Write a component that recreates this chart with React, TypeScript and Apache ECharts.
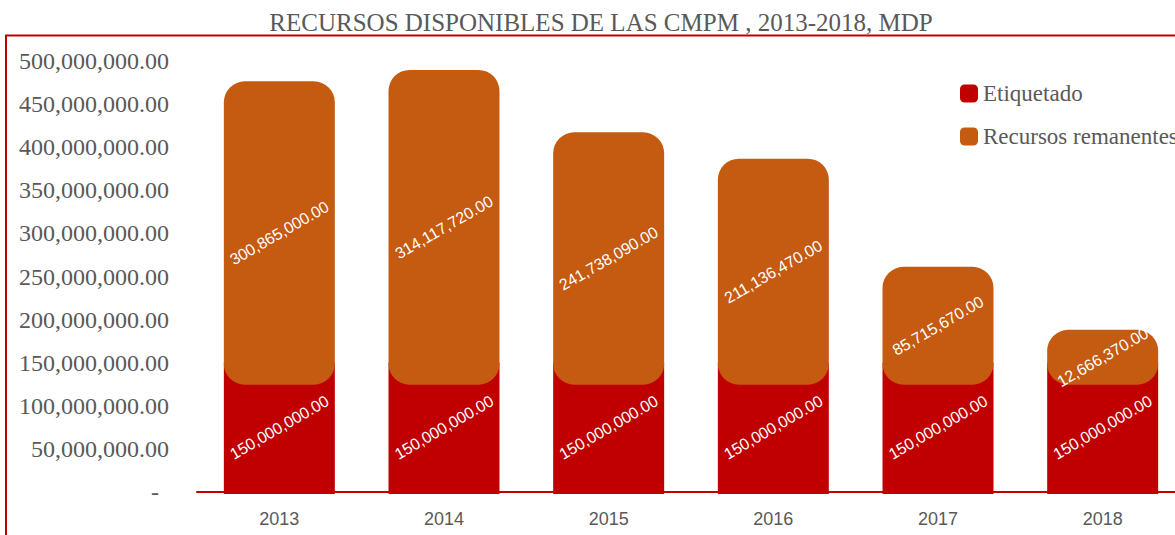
import React, { useEffect, useRef } from "react";
import * as echarts from "echarts";

const categories = ["2013", "2014", "2015", "2016", "2017", "2018"];
const etiquetado = [150000000, 150000000, 150000000, 150000000, 150000000, 150000000];
const remanentes = [300865000, 314117720, 241738090, 211136470, 85715670, 12666370];
const yTicks = { min: 0, max: 500000000, interval: 50000000 };

const RED = "#C00000";
const ORANGE = "#C55A11";
const GRAY = "#595959";

const fmt = (v: number) =>
  v.toLocaleString("en-US", { minimumFractionDigits: 2, maximumFractionDigits: 2 });

function makeRender(bases: number[], values: number[], color: string, extTop: number, extBottom: number, radius: number) {
  return (params: any, api: any) => {
    const i = params.dataIndex;
    const base = bases[i];
    const val = values[i];
    const p0 = api.coord([i, base]);
    const p1 = api.coord([i, base + val]);
    const pm = api.coord([i, base + val / 2]);
    const bw = api.size([1, 0])[0] * 0.674;
    const top = p1[1] - extTop;
    const bottom = p0[1] + extBottom;
    return {
      type: "group",
      children: [
        {
          type: "rect",
          shape: { x: p0[0] - bw / 2, y: top, width: bw, height: bottom - top, r: radius },
          style: { fill: color },
        },
        {
          type: "text",
          x: pm[0],
          y: pm[1],
          rotation: Math.PI / 6,
          style: {
            text: fmt(val),
            fill: "#ffffff",
            fontSize: 16,
            fontFamily: "Liberation Sans",
            align: "center",
            verticalAlign: "middle",
          },
        },
      ],
    };
  };
}

export default function App() {
  const ref = useRef<HTMLDivElement>(null);
  useEffect(() => {
    if (!ref.current) return;
    const chart = echarts.init(ref.current, undefined, { renderer: "svg" });
    const zeros = categories.map(() => 0);
    chart.setOption({
      animation: false,
      backgroundColor: "#ffffff",
      title: {
        text: "RECURSOS DISPONIBLES DE LAS CMPM , 2013-2018, MDP",
        left: 596,
        textAlign: "center",
        top: 5,
        textStyle: { fontFamily: "Liberation Serif", fontSize: 25, fontWeight: "normal", color: GRAY },
      },
      graphic: [
        {
          type: "rect",
          shape: { x: 6, y: 35.5, width: 1400, height: 700 },
          style: { fill: "none", stroke: RED, lineWidth: 2 },
          silent: true,
        },
      ],
      legend: {
        orient: "vertical",
        left: 955,
        top: 77,
        icon: "roundRect",
        itemWidth: 18,
        itemHeight: 18,
        itemGap: 20,
        textStyle: { fontFamily: "Liberation Serif", fontSize: 23, color: GRAY },
        data: ["Etiquetado", "Recursos remanentes"],
      },
      grid: { left: 197, top: 61, width: 988, bottom: 43, containLabel: false },
      xAxis: {
        type: "category",
        data: categories,
        axisLine: { show: true, lineStyle: { color: RED, width: 2 } },
        axisTick: { show: false },
        axisLabel: { fontFamily: "Liberation Sans", fontSize: 18, color: GRAY, margin: 18 },
      },
      yAxis: {
        type: "value",
        min: yTicks.min,
        max: yTicks.max,
        interval: yTicks.interval,
        axisLine: { show: false },
        axisTick: { show: false },
        splitLine: { show: false },
        axisLabel: {
          margin: 28,
          fontFamily: "Liberation Serif",
          fontSize: 24,
          color: GRAY,
          formatter: (v: number) => (v === 0 ? "{d|-}" : fmt(v)),
          rich: { d: { fontFamily: "Liberation Serif", fontSize: 24, color: GRAY, padding: [0, 10, 0, 0] } },
        },
      },
      series: [
        {
          name: "Etiquetado",
          type: "custom",
          itemStyle: { color: RED },
          encode: { x: 0, y: 1 },
          data: categories.map((_, i) => [i, etiquetado[i]]),
          renderItem: makeRender(zeros, etiquetado, RED, 0, 2, 0),
          z: 2,
        },
        {
          name: "Recursos remanentes",
          type: "custom",
          itemStyle: { color: ORANGE },
          encode: { x: 0, y: 1 },
          data: categories.map((_, i) => [i, etiquetado[i] + remanentes[i]]),
          renderItem: makeRender(etiquetado, remanentes, ORANGE, 22, 22, 21),
          z: 3,
        },
      ],
    });
    return () => chart.dispose();
  }, []);
  return (
    <div style={{ position: "fixed", left: 0, top: 0, width: 1175, height: 535, overflow: "hidden", background: "#fff" }}>
      <div ref={ref} style={{ width: 1190, height: 535 }} />
    </div>
  );
}
